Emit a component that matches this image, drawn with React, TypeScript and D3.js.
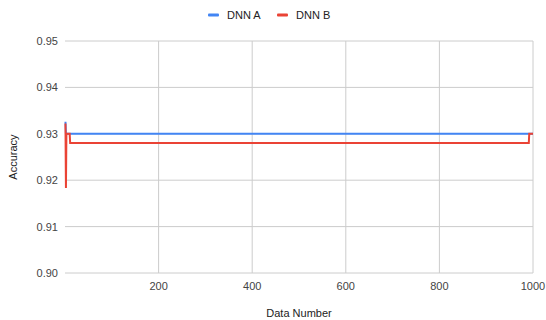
import React from "react";
import * as d3 from "d3";

const seriesNames = ["DNN A", "DNN B"];
const seriesColors = ["#4285F4", "#EA4335"];
const dnnAX = [1, 2, 1000];
const dnnAY = [0.9326, 0.93, 0.93];
const dnnBX = [1, 2, 3, 10, 11, 991, 992, 1000];
const dnnBY = [0.9322, 0.9183, 0.93, 0.93, 0.928, 0.928, 0.93, 0.93];
const xTicks = [200, 400, 600, 800, 1000];
const yTicks = [0.9, 0.91, 0.92, 0.93, 0.94, 0.95];

const W = 546;
const H = 320;
const M = { left: 65, right: 13, top: 41, bottom: 47 };

export default function App() {
  const x = d3.scaleLinear().domain([0, 1000]).range([M.left, W - M.right]);
  const y = d3.scaleLinear().domain([0.9, 0.95]).range([H - M.bottom, M.top]);
  const line = d3
    .line<[number, number]>()
    .x((d) => x(d[0]))
    .y((d) => y(d[1]));
  const seriesData: [number, number][][] = [
    dnnAX.map((v, i) => [v, dnnAY[i]]),
    dnnBX.map((v, i) => [v, dnnBY[i]]),
  ];
  const font = "'Liberation Sans', Arial, sans-serif";
  const legendX = [208, 277];
  return (
    <svg
      width={W}
      height={H}
      style={{ position: "absolute", left: 0, top: 0, background: "#fff" }}
      fontFamily={font}
    >
      {yTicks.map((t) => (
        <g key={"y" + t}>
          <line x1={M.left} x2={W - M.right} y1={y(t)} y2={y(t)} stroke="#ccc" strokeWidth={1} />
          <text x={58} y={y(t) + 4} textAnchor="end" fontSize={11} fill="#444">
            {d3.format(".2f")(t)}
          </text>
        </g>
      ))}
      {xTicks.map((t) => {
        const cx = Math.min(x(t), W - 12.5);
        return (
          <g key={"x" + t}>
            <line x1={x(t)} x2={x(t)} y1={M.top} y2={H - M.bottom} stroke="#ccc" strokeWidth={1} />
            <text x={cx} y={290} textAnchor="middle" fontSize={11} fill="#444">
              {t}
            </text>
          </g>
        );
      })}
      {seriesData.map((d, i) => (
        <path key={i} d={line(d) || ""} fill="none" stroke={seriesColors[i]} strokeWidth={2} />
      ))}
      <text
        transform={`translate(17,${(M.top + H - M.bottom) / 2}) rotate(-90)`}
        textAnchor="middle"
        fontSize={11}
        fill="#222"
      >
        Accuracy
      </text>
      <text x={(M.left + W - M.right) / 2} y={317} textAnchor="middle" fontSize={11} fill="#222">
        Data Number
      </text>
      {seriesNames.map((n, i) => (
        <g key={n}>
          <rect x={legendX[i]} y={13.5} width={11} height={3} fill={seriesColors[i]} rx={1} />
          <text x={legendX[i] + 19} y={19} fontSize={11} fill="#222">
            {n}
          </text>
        </g>
      ))}
    </svg>
  );
}
